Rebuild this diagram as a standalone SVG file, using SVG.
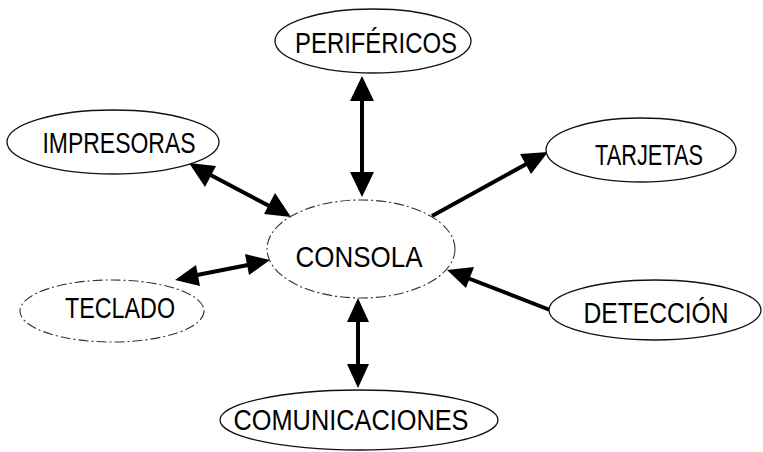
<svg xmlns="http://www.w3.org/2000/svg" width="763" height="452" viewBox="0 0 763 452">
<defs>
<style>
.nd{fill:#fff;stroke:#111;stroke-width:1.3}
.dash{fill:#fff;stroke:#333;stroke-width:1.1;stroke-dasharray:10 3 2 3}
.lb{font-family:"Liberation Sans",Arial,sans-serif;font-size:30px;fill:#000;text-anchor:middle}
.cn{stroke:#000;stroke-width:4;fill:none}
.hd{fill:#000}
</style>
</defs>
<rect width="763" height="452" fill="#fff"/>
<g id="connectors">
<line class="cn" x1="362" y1="98" x2="362" y2="175"/>
<polygon class="hd" points="362,76 350,101 374,101"/>
<polygon class="hd" points="362,197 350,172 374,172"/>
<line class="cn" x1="205" y1="172" x2="275" y2="209"/>
<polygon class="hd" points="189,163 216,166 205,187"/>
<polygon class="hd" points="291,217 264,214 275,193"/>
<line class="cn" x1="432" y1="216" x2="530" y2="162"/>
<polygon class="hd" points="548,152 531,174 520,154"/>
<line class="cn" x1="192" y1="276" x2="253" y2="264"/>
<polygon class="hd" points="175,280 196,265 200,286"/>
<polygon class="hd" points="270,260 249,275 245,254"/>
<line class="cn" x1="550" y1="310" x2="465" y2="277"/>
<polygon class="hd" points="447,270 474,267 466,288"/>
<line class="cn" x1="358" y1="318" x2="358" y2="368"/>
<polygon class="hd" points="358,298 347,322 369,322"/>
<polygon class="hd" points="358,388 347,364 369,364"/>
</g>
<g id="consola">
<ellipse class="dash" cx="361" cy="249" rx="94" ry="49"/>
<text class="lb" x="359" y="267" textLength="127" lengthAdjust="spacingAndGlyphs">CONSOLA</text>
</g>
<g id="perifericos">
<ellipse class="nd" cx="373" cy="41" rx="98" ry="32"/>
<text class="lb" x="376" y="53" textLength="162" lengthAdjust="spacingAndGlyphs">PERIFÉRICOS</text>
</g>
<g id="impresoras">
<ellipse class="nd" cx="113" cy="142" rx="106" ry="32"/>
<text class="lb" x="119" y="153" textLength="153" lengthAdjust="spacingAndGlyphs">IMPRESORAS</text>
</g>
<g id="tarjetas">
<ellipse class="nd" cx="641" cy="150" rx="95" ry="32"/>
<text class="lb" x="649" y="165" textLength="108" lengthAdjust="spacingAndGlyphs">TARJETAS</text>
</g>
<g id="teclado">
<ellipse class="dash" cx="112" cy="311" rx="92" ry="31"/>
<text class="lb" x="120" y="318" textLength="110" lengthAdjust="spacingAndGlyphs">TECLADO</text>
</g>
<g id="deteccion">
<ellipse class="nd" cx="655" cy="310" rx="106" ry="30"/>
<text class="lb" x="656" y="323" textLength="145" lengthAdjust="spacingAndGlyphs">DETECCIÓN</text>
</g>
<g id="comunicaciones">
<ellipse class="nd" cx="359" cy="420" rx="139" ry="30"/>
<text class="lb" x="351" y="430" textLength="235" lengthAdjust="spacingAndGlyphs">COMUNICACIONES</text>
</g>
</svg>
